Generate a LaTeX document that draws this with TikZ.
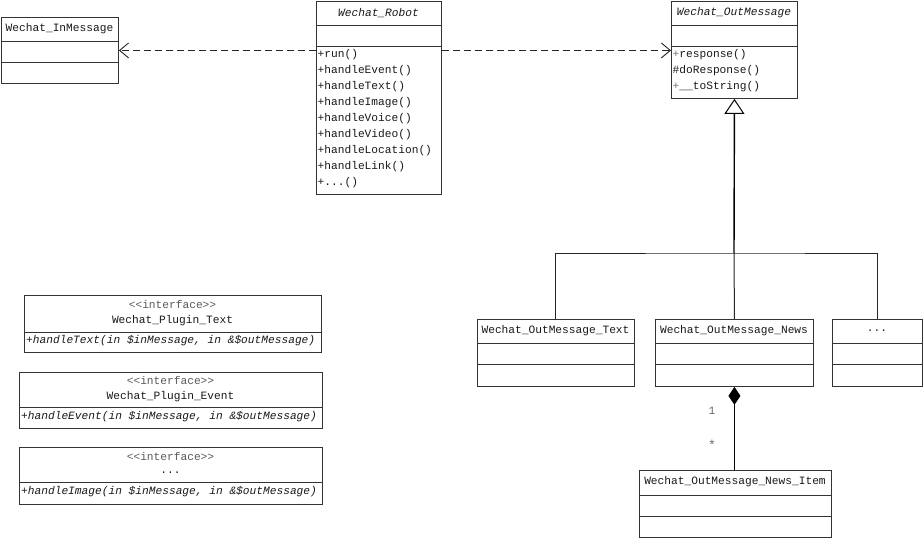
\documentclass[tikz,border=0pt]{standalone}
\usepackage{fontspec}
\setmonofont{Liberation Mono}
\usetikzlibrary{arrows.meta,calc}
\begin{document}
\begin{tikzpicture}[x=1pt,y=-1pt,
  every node/.style={font=\fontsize{11.2}{16}\selectfont\ttfamily, inner sep=0pt, text=black!90},
  cls/.style={draw=black!80, line width=0.9pt, anchor=north west, inner sep=0pt},
  sep/.style={draw=black!80, line width=0.9pt},
  lft/.style={anchor=west},
  it/.style={font=\fontsize{11.2}{16}\selectfont\ttfamily\itshape},
  stereo/.style={text=black!65},
  dep/.style={draw=black!85, line width=0.9pt, dash pattern=on 7pt off 4pt, -{Straight Barb[length=9pt,width=15pt,line width=0.9pt]}},
  gen/.style={draw=black, line width=1.4pt},
  genline/.style={draw=black!85, line width=1pt},
  comp/.style={draw=black, line width=1pt, {Diamond[length=18pt,width=12pt]}-},
  mult/.style={text=black!60}
]
\useasboundingbox (0,0) rectangle (923,538);
% class boxes
\node[cls, minimum width=117pt, minimum height=66pt] (inmsg) at (1,17) {};
\node[cls, minimum width=125pt, minimum height=193pt] (robot) at (316,1) {};
\node[cls, minimum width=126pt, minimum height=97pt] (outmsg) at (671,1) {};
\node[cls, minimum width=157pt, minimum height=67pt] (txt) at (477,319) {};
\node[cls, minimum width=158pt, minimum height=67pt] (news) at (655,319) {};
\node[cls, minimum width=90pt, minimum height=67pt] (etc) at (832,319) {};
\node[cls, minimum width=192pt, minimum height=67pt] (item) at (639,470) {};
\node[cls, minimum width=297pt, minimum height=57pt] (ifa) at (24,295) {};
\node[cls, minimum width=303pt, minimum height=56pt] (ifb) at (19,372) {};
\node[cls, minimum width=303pt, minimum height=57pt] (ifc) at (19,447) {};
% separators
\foreach \n/\a/\b in {inmsg/24/45, robot/24/45, outmsg/24/45, txt/24/45, news/24/45, etc/24/45, item/25/46}{
  \draw[sep] ([yshift=-\a pt]\n.north west) -- ([yshift=-\a pt]\n.north east);
  \draw[sep] ([yshift=-\b pt]\n.north west) -- ([yshift=-\b pt]\n.north east);
}
\draw[sep] ([yshift=-37pt]ifa.north west) -- ([yshift=-37pt]ifa.north east);
\draw[sep] ([yshift=-35pt]ifb.north west) -- ([yshift=-35pt]ifb.north east);
\draw[sep] ([yshift=-35pt]ifc.north west) -- ([yshift=-35pt]ifc.north east);
% titles
\node (t1) at (59.5,29) {Wechat\_InMessage};
\node[it] (t2) at (378.5,13) {Wechat\_Robot};
\node[it] (t3) at (734,13) {Wechat\_OutMessage};
\node (t4) at (555.5,331) {Wechat\_OutMessage\_Text};
\node (t5) at (734,331) {Wechat\_OutMessage\_News};
\node (t6) at (877,331) {...};
\node (t7) at (735,482) {Wechat\_OutMessage\_News\_Item};
% robot methods
\node[lft] (rm0) at (317.5,55) {+run()};
\node[lft] (rm1) at (317.5,71) {+handleEvent()};
\node[lft] (rm2) at (317.5,87) {+handleText()};
\node[lft] (rm3) at (317.5,103) {+handleImage()};
\node[lft] (rm4) at (317.5,119) {+handleVoice()};
\node[lft] (rm5) at (317.5,135) {+handleVideo()};
\node[lft] (rm6) at (317.5,151) {+handleLocation()};
\node[lft] (rm7) at (317.5,167) {+handleLink()};
\node[lft] (rm8) at (317.5,183) {+...()};
% outmessage methods
\node[lft] (om0) at (672.5,55) {\textcolor{black!55}{+}response()};
\node[lft] (om1) at (672.5,71) {\#doResponse()};
\node[lft] (om2) at (672.5,87) {\textcolor{black!55}{+}\_\_toString()};
% interfaces
\node[stereo] (s1) at (172.5,304) {<<interface>>};
\node (n1) at (172.5,321) {Wechat\_Plugin\_Text};
\node[lft, it] (m1) at (26,341) {+handleText(in \$inMessage, in \&\$outMessage)};
\node[stereo] (s2) at (170.5,380) {<<interface>>};
\node (n2) at (170.5,397) {Wechat\_Plugin\_Event};
\node[lft, it] (m2) at (21,417) {+handleEvent(in \$inMessage, in \&\$outMessage)};
\node[stereo] (s3) at (170.5,456) {<<interface>>};
\node (n3) at (170.5,473) {...};
\node[lft, it] (m3) at (21,492) {+handleImage(in \$inMessage, in \&\$outMessage)};
% multiplicities
\node[mult] (mu1) at (712,411) {1};
\node[mult, font=\fontsize{13}{16}\selectfont\ttfamily] (mu2) at (712,445) {*};
% dependencies
\draw[dep] (robot.west |- inmsg.east) -- (inmsg.east);
\draw[dep] (robot.east |- inmsg.east) -- (outmsg.west |- inmsg.east);
% generalization
\coordinate (junc) at (734,253);
\draw[genline] (txt.north) |- (junc) -| (etc.north);
\draw[genline] (news.north) -- (junc);
\draw[gen, -{Triangle[open, length=15pt, width=20pt, line width=1pt, fill=white]}] (junc) -- (outmsg.south);
% composition
\draw[comp] (news.south) -- (news.south |- item.north);
\end{tikzpicture}
\end{document}
